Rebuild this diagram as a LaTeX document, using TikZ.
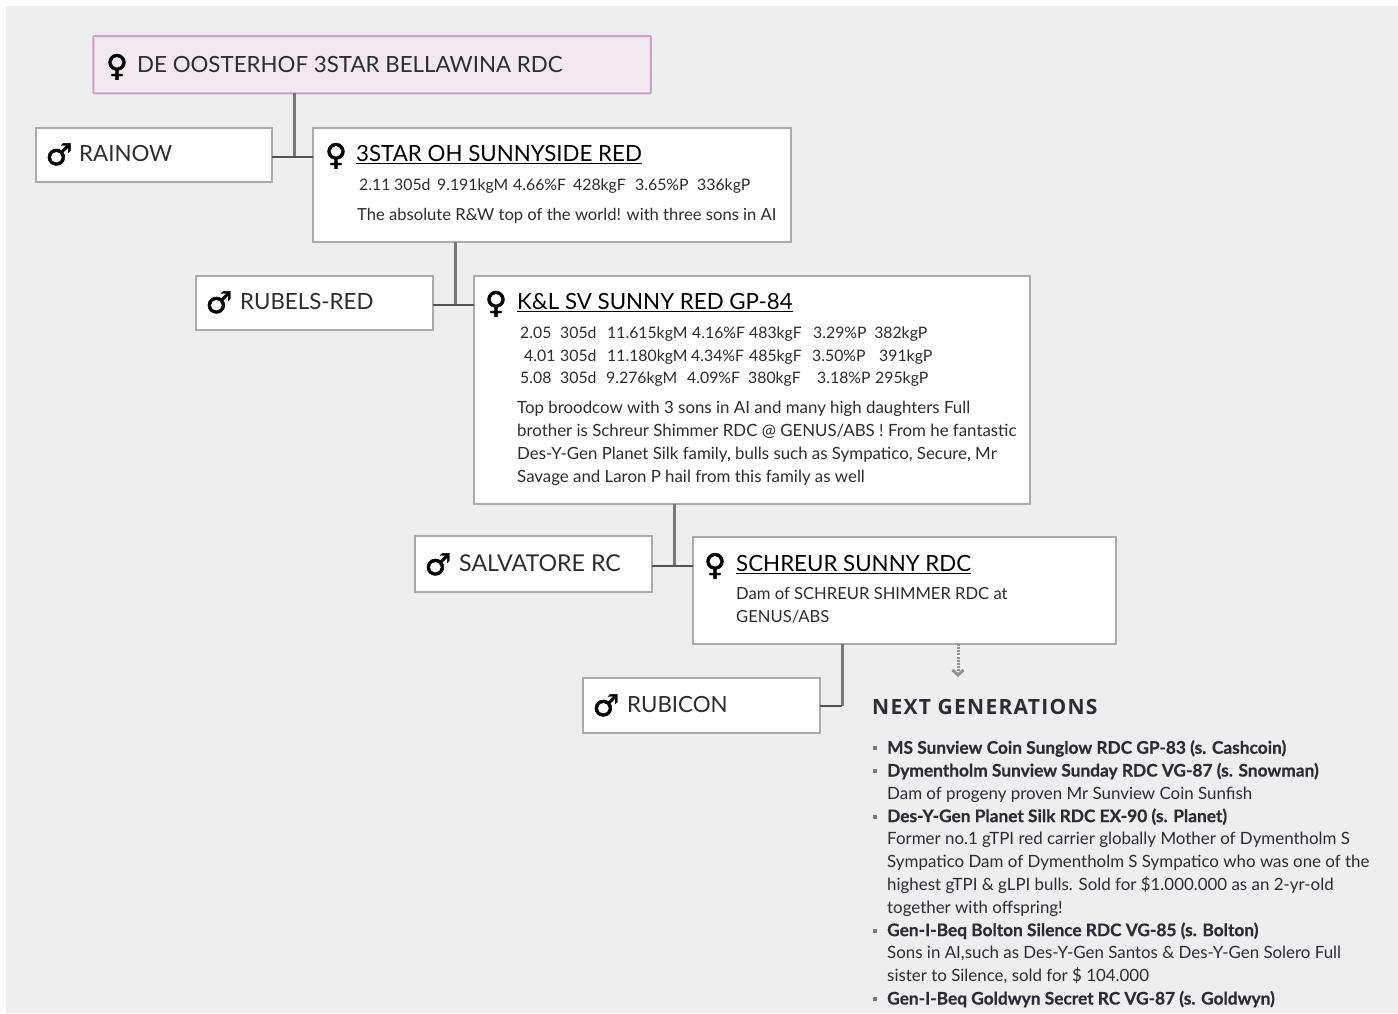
\documentclass[tikz,border=0pt]{standalone}
\usepackage{fontspec}
\setmainfont{Lato}
\newfontfamily\signfont[FakeBold=1.5]{DejaVu Sans}
\newfontfamily\headfont[LetterSpace=6]{Open Sans Bold}
\newfontfamily\listboldfont[FakeBold=0.6]{Lato Bold}
\usetikzlibrary{arrows.meta, positioning, calc}
\definecolor{pagegray}{HTML}{EEEEEE}
\definecolor{inkdark}{HTML}{2B2D33}
\definecolor{boxline}{HTML}{ABABAB}
\definecolor{trunkline}{HTML}{777777}
\definecolor{toppink}{HTML}{F4E8F0}
\definecolor{topline}{HTML}{CDA0C8}
\newcommand{\cowbold}[1]{{\listboldfont\fontsize{17.3}{22.8}\selectfont #1}}
\newcommand{\reccell}[2]{\makebox[#1pt][l]{#2}}
\tikzset{
  cowbox/.style={draw=boxline, line width=2pt, fill=white, rectangle, inner sep=0pt, outer sep=0pt, anchor=north west},
  namelabel/.style={anchor=base west, inner sep=0pt, text=inkdark, font=\fontsize{22.3}{26}\selectfont},
  damlabel/.style={namelabel, text=black},
  bodylabel/.style={anchor=base west, inner sep=0pt, text=inkdark, font=\fontsize{16.6}{22.8}\selectfont, align=left},
  reclabel/.style={bodylabel, font=\fontsize{15.8}{22.8}\selectfont},
  notelabel/.style={bodylabel, font=\fontsize{16.85}{22.8}\selectfont},
  listlabel/.style={anchor=base west, inner sep=0pt, text=inkdark, font=\fontsize{16.9}{22.8}\selectfont, align=left},
  headlabel/.style={anchor=base west, inner sep=0pt, text=inkdark, font=\headfont\fontsize{21}{24}\selectfont},
  signlabel/.style={anchor=base, inner sep=0pt, text=black, font=\signfont\fontsize{30}{30}\selectfont},
  trunk/.style={draw=trunkline, line width=3pt},
  branch/.style={draw=trunkline!70!black, line width=1.6pt},
  listdot/.style={fill=trunkline, inner sep=0pt, minimum size=4pt},
}
\begin{document}
\begin{tikzpicture}[x=1pt, y=-1pt]
\useasboundingbox (0,0) rectangle (1398,1013);
\fill[pagegray] (6,6) rectangle (1398,1013);

% Boxes
\node[cowbox, draw=topline, fill=toppink, rounded corners=1pt, minimum width=557.6pt, minimum height=57.3pt] (top) at (93.3,36) {};
\node[cowbox, minimum width=235.4pt, minimum height=54pt] (rainow) at (36.3,127.7) {};
\node[cowbox, minimum width=477.4pt, minimum height=114pt] (star) at (313.3,127.7) {};
\node[cowbox, minimum width=236.4pt, minimum height=54pt] (rubels) at (196.3,275.7) {};
\node[cowbox, minimum width=555.4pt, minimum height=228pt] (sunny) at (474.3,275.7) {};
\node[cowbox, minimum width=236.4pt, minimum height=56pt] (salvatore) at (415.3,535.7) {};
\node[cowbox, minimum width=422.4pt, minimum height=107pt] (schreur) at (693.3,536.7) {};
\node[cowbox, minimum width=236.4pt, minimum height=55pt] (rubicon) at (583.3,677.7) {};

% Where the lines meet
\coordinate (joinA) at (294,157);
\coordinate (joinB) at (455,305);
\coordinate (joinC) at (674,566);
\coordinate (joinD) at (842,706);
\coordinate (nextgen) at (958,677);

% Lines
\draw[trunk] (joinA |- top.south) -- (joinA);
\draw[branch] (joinA -| rainow.east) -- (joinA -| star.west);
\draw[trunk] (joinB |- star.south) -- (joinB);
\draw[branch] (joinB -| rubels.east) -- (joinB -| sunny.west);
\draw[trunk] (joinC |- sunny.south) -- (joinC);
\draw[branch] (joinC -| salvatore.east) -- (joinC -| schreur.west);
\draw[trunk] (joinD |- schreur.south) -- (joinD);
\draw[branch] (joinD -| rubicon.east) -- (joinD);
\draw[draw=trunkline!80, line width=3pt, dash pattern=on 2pt off 1.2pt, -{Straight Barb[length=5pt, width=11pt]}] (nextgen |- schreur.south) -- (nextgen);

% Signs
\node[signlabel] (topsign) at (117,76) {♀};
\node[signlabel] (starsign) at (336,165) {♀};
\node[signlabel] (sunnysign) at (496,313) {♀};
\node[signlabel] (schreursign) at (715,575) {♀};
\node[signlabel] (rainowsign) at (59,165) {♂};
\node[signlabel] (rubelssign) at (219,313) {♂};
\node[signlabel] (salvatoresign) at (438,575) {♂};
\node[signlabel] (rubiconsign) at (606,716) {♂};

% Names
\node[namelabel] (topname) at (137,72.5) {DE OOSTERHOF 3STAR BELLAWINA RDC};
\node[namelabel] (rainowname) at (79,161.5) {RAINOW};
\node[damlabel] (starname) at (356,161.5) {\underline{3STAR OH SUNNYSIDE RED}};
\node[namelabel] (rubelsname) at (240,309.5) {RUBELS-RED};
\node[damlabel] (sunnyname) at (517,309.5) {\underline{K\&L SV SUNNY RED GP-84}};
\node[namelabel, font=\fontsize{23.2}{26}\selectfont] (salvatorename) at (459,571.5) {SALVATORE RC};
\node[damlabel] (schreurname) at (736,571.5) {\underline{SCHREUR SUNNY RDC}};
\node[namelabel] (rubiconname) at (627,712.5) {RUBICON};

% Records and notes
\node[reclabel] (starrec) at (359,190) {\reccell{35}{2.11}\reccell{43}{305d}\reccell{76}{9.191kgM}\reccell{60}{4.66\%F}\reccell{62}{428kgF}\reccell{62}{3.65\%P}336kgP};
\node[bodylabel] (starnote) at (357,220) {The absolute R\&W top of the world! with three sons in AI};
\node[reclabel] (sunnyrecA) at (520,338) {\reccell{40}{2.05}\reccell{47}{305d}\reccell{85}{11.615kgM}\reccell{57}{4.16\%F}\reccell{64}{483kgF}\reccell{61}{3.29\%P}382kgP};
\node[reclabel] (sunnyrecB) at (524,361) {\reccell{36}{4.01}\reccell{47}{305d}\reccell{84}{11.180kgM}\reccell{58}{4.34\%F}\reccell{63}{485kgF}\reccell{67}{3.50\%P}391kgP};
\node[reclabel] (sunnyrecC) at (520,383) {\reccell{40}{5.08}\reccell{46}{305d}\reccell{81}{9.276kgM}\reccell{61}{4.09\%F}\reccell{69}{380kgF}\reccell{58}{3.18\%P}295kgP};
\node[notelabel] (sunnynote) at (517,482) {Top broodcow with 3 sons in AI and many high daughters Full\\brother is Schreur Shimmer RDC @ GENUS/ABS ! From he fantastic\\Des-Y-Gen Planet Silk family, bulls such as Sympatico, Secure, Mr\\Savage and Laron P hail from this family as well};
\node[bodylabel] (schreurnote) at (736,622.5) {Dam of SCHREUR SHIMMER RDC at\\GENUS/ABS};

% Next generations
\node[headlabel] (nexthead) at (872,714) {NEXT GENERATIONS};
\foreach \y in {748,771,817,931,999}
  \node[listdot] at (874.5,\y) {};
\node[listlabel] (nextlist) at (887,1004.5) {\cowbold{MS Sunview Coin Sunglow RDC GP-83 (s. Cashcoin)}\\
\cowbold{Dymentholm Sunview Sunday RDC VG-87 (s. Snowman)}\\
Dam of progeny proven Mr Sunview Coin Sunfish\\
\cowbold{Des-Y-Gen Planet Silk RDC EX-90 (s. Planet)}\\
Former no.1 gTPI red carrier globally Mother of Dymentholm S\\
Sympatico Dam of Dymentholm S Sympatico who was one of the\\
highest gTPI \& gLPI bulls. Sold for \$1.000.000 as an 2-yr-old\\
together with offspring!\\
\cowbold{Gen-I-Beq Bolton Silence RDC VG-85 (s. Bolton)}\\
Sons in AI,such as Des-Y-Gen Santos \& Des-Y-Gen Solero Full\\
sister to Silence, sold for \$ 104.000\\
\cowbold{Gen-I-Beq Goldwyn Secret RC VG-87 (s. Goldwyn)}};
\end{tikzpicture}
\end{document}
